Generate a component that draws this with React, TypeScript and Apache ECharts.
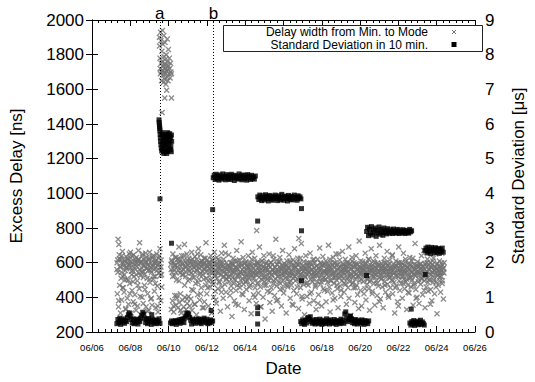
import React, { useEffect, useRef } from "react";
import * as echarts from "echarts";

// x values are days since 06/06 00:00
const FIRST_DAY_OF_AXIS = 6;
const X_MIN = 0;
const X_MAX = 20;
const X_TICK = 2;

// ---- Delay width from Min. to Mode [ns] (gray ×) ----
const delayStep = 1 / 48;
const delayStepB = 1 / 24;
const delaySeg1Start = 1.3;
const delaySeg1 = [
  560, 420, 615, 735, 345, 705, 645, 470, 575, 310, 620, 545, 385, 600, 665, 520, 455, 580, 430, 610, 500, 555, 330, 635,
  575, 505, 395, 615, 600, 360, 590, 650, 480, 570, 660, 625, 310, 530, 440, 600, 555, 375, 645, 520, 590, 415, 605, 560,
  325, 630, 580, 495, 350, 615, 670, 540, 450, 715, 595, 525, 300, 610, 570, 400, 640, 550, 365, 620, 585, 470, 535, 600,
  655, 345, 565, 630, 510, 420, 590, 555, 325, 615, 660, 485, 575, 390, 600, 545, 355, 625, 580, 505, 640, 560, 435, 595,
  520, 610, 340, 570, 650, 465, 585, 315, 625, 540, 400, 600, 680, 555, 380, 615, 530,
];
const delaySeg1bStart = 1.31;
const delaySeg1b = [
  600, 545, 380, 620, 575, 510, 640, 455, 590, 530, 610, 335, 565, 625, 500, 585, 420, 605, 550, 640, 490, 575, 360, 615,
  530, 595, 470, 620, 560, 405, 600, 545, 650, 515, 580, 445, 610, 565, 320, 590, 625, 505, 555, 395, 635, 580, 520, 600,
  480, 615, 555, 350, 590, 640, 525, 575, 460,
];
const delayHigh: [number, number][] = [
  [3.52, 1900], [3.53, 1850], [3.55, 1780], [3.56, 1720], [3.57, 1690], [3.58, 1930], [3.6, 1880], [3.61, 1750],
  [3.62, 1700], [3.63, 1650], [3.65, 1820], [3.66, 1760], [3.67, 1710], [3.68, 1940], [3.7, 1860], [3.71, 1730],
  [3.72, 1680], [3.73, 1640], [3.75, 1910], [3.76, 1790], [3.77, 1745], [3.78, 1700], [3.8, 1660], [3.81, 1870],
  [3.82, 1770], [3.84, 1720], [3.85, 1690], [3.86, 1630], [3.88, 1800], [3.89, 1740], [3.9, 1705], [3.92, 1670],
  [3.93, 1890], [3.95, 1760], [3.96, 1715], [3.97, 1650], [3.99, 1830], [4.0, 1735], [4.02, 1690], [4.04, 1780],
  [4.06, 1720], [4.08, 1665], [4.1, 1750], [4.12, 1700], [4.15, 1690], [3.9, 1595], [3.8, 1550], [4.15, 1550],
  [3.66, 1466],
];
const delaySeg2Start = 4.12;
const delaySeg2 = [
  590, 330, 615, 545, 380, 650, 565, 315, 600, 525, 410, 585, 355, 630, 500, 395, 575, 620, 340, 555, 690, 370, 605, 540,
  420, 580, 310, 640, 530, 385, 595, 560, 345, 615, 705, 400, 570, 520, 330, 600, 650, 365, 585, 495, 405, 625, 550, 350,
  575, 610, 390, 540, 660, 325, 590, 515, 440, 605, 570, 360, 635, 545, 480, 580, 300, 620, 555, 415, 595, 680, 505, 570,
  385, 600, 540, 645, 455, 575, 610, 340, 530, 590, 505, 625, 375, 560, 600, 470, 715, 545, 420, 615, 580, 495, 350, 565,
  605, 525, 460, 590, 640, 550, 310, 575, 615, 490, 545, 400, 600, 660, 520, 435, 580, 555, 365, 630, 510, 590, 450, 570,
  540, 610, 485, 565, 320, 595, 530, 655, 460, 580, 515, 395, 620, 550, 700, 475, 570, 535, 430, 600, 505, 560, 345, 585,
  520, 645, 490, 575, 410, 555, 600, 465, 535, 290, 590, 515, 625, 480, 560, 380, 545, 610, 500, 440, 575, 670, 525, 470,
  565, 355, 590, 530, 615, 455, 545, 500, 720, 585, 420, 560, 505, 630, 475, 550, 330, 595, 540, 490, 605, 445, 520, 580,
  495, 570, 640, 515, 380, 555, 600, 470, 535, 305, 580, 525, 660, 485, 545, 415, 590, 510, 625, 455, 560, 535, 365, 600,
  540, 480, 595, 425, 570, 515, 690, 550, 460, 585, 345, 530, 610, 500, 555, 400, 575, 640, 490, 520, 275, 565, 545, 470,
  605, 520, 435, 560, 585, 495, 650, 540, 370, 575, 510, 600, 455, 530, 320, 590, 555, 480, 620, 545, 410, 570, 505, 735,
  550, 465, 590, 520, 385, 605, 540, 490, 575, 630, 445, 560, 515, 350, 585, 535, 670, 500, 565, 425, 595, 530, 475, 545,
  580, 310, 555, 610, 505, 460, 570, 525, 645, 490, 540, 395, 600, 550, 470, 585, 360, 530, 615, 510, 440, 565, 680, 520,
  495, 575, 540, 420, 590, 505, 625, 560, 335, 545, 485, 600, 530, 455, 570, 710, 515, 390, 580, 550, 475, 605, 525, 300,
  565, 515, 640, 480, 550, 405, 585, 530, 470, 600, 545, 365, 575, 655, 505, 560, 430, 590, 520, 490, 615, 540, 380, 570,
  525, 600, 460, 555, 330, 580, 535, 490, 620, 545, 415, 570, 510, 685, 560, 475, 595, 530, 350, 585, 505, 635, 450, 550,
  590, 440, 545, 505, 610, 375, 565, 530, 485, 595, 545, 700, 520, 460, 575, 315, 555, 600, 495, 540, 425, 585, 515, 630,
  545, 480, 575, 395, 600, 525, 650, 500, 555, 450, 590, 340, 535, 570, 510, 615, 465, 550, 405, 585, 525, 495, 665, 560,
  510, 590, 430, 560, 535, 620, 475, 580, 360, 545, 505, 600, 455, 570, 690, 520, 490, 595, 540, 295, 565, 515, 630, 480,
  575, 520, 455, 600, 545, 370, 585, 505, 640, 535, 470, 560, 415, 590, 525, 550, 725, 495, 570, 440, 610, 530, 350, 555,
  540, 605, 490, 565, 420, 580, 515, 655, 545, 385, 595, 530, 475, 570, 505, 620, 450, 555, 325, 590, 540, 500, 680, 525,
  560, 435, 585, 520, 610, 480, 545, 355, 575, 530, 640, 495, 565, 410, 600, 540, 465, 585, 515, 700, 550, 390, 570, 505,
  595, 525, 460, 560, 340, 580, 545, 625, 490, 570, 430, 600, 515, 550, 665, 475, 585, 530, 400, 565, 510, 615, 455, 545,
  530, 575, 500, 645, 420, 555, 590, 485, 540, 310, 570, 525, 610, 465, 580, 545, 375, 600, 520, 690, 495, 560, 440, 585,
  550, 480, 600, 535, 395, 570, 520, 655, 505, 585, 450, 545, 620, 490, 560, 330, 575, 535, 470, 595, 510, 425, 565, 630,
  515, 585, 460, 545, 610, 500, 570, 355, 535, 590, 480, 560, 710, 525, 445, 580, 540, 400, 605, 550, 490, 575, 365, 540,
  590, 530, 475, 565, 640, 505, 550, 415, 580, 520, 670, 495, 560, 340, 595, 535, 460, 575, 510, 620, 545, 435, 585, 500,
  560, 505, 600, 445, 570, 530, 380, 590, 545, 485, 625, 515, 555, 420, 580, 535, 650, 490, 565, 305, 595, 525, 470, 550,
  540, 610, 495, 575, 430, 560, 520, 655, 480, 585, 545, 390, 570, 600,
];
const delaySeg2bStart = 4.13;
const delaySeg2b = [
  560, 605, 520, 350, 585, 630, 545, 410, 575, 600, 495, 620, 325, 555, 590, 530, 640, 470, 580, 545, 390, 610, 565, 505,
  595, 540, 445, 620, 575, 515, 360, 600, 560, 650, 485, 585, 530, 420, 610, 550, 595, 340, 570, 625, 510, 580, 455, 600,
  545, 590, 500, 570, 615, 475, 555, 530, 385, 595, 540, 620, 490, 565, 585, 430, 550, 600, 520, 575, 655, 505, 560, 535,
  580, 515, 565, 440, 600, 545, 590, 505, 570, 360, 555, 610, 525, 580, 475, 545, 595, 535, 415, 570, 520, 600, 490, 560,
  535, 575, 460, 590, 550, 620, 510, 565, 540, 400, 585, 530, 600, 485, 555, 575, 345, 545, 610, 515, 580, 470, 560, 595,
  570, 505, 585, 545, 430, 600, 530, 560, 640, 495, 575, 540, 380, 590, 520, 555, 605, 480, 565, 535, 450, 580, 545, 510,
  590, 550, 470, 575, 525, 610, 495, 560, 540, 355, 585, 520, 570, 600, 460, 545, 590, 510, 625, 530, 405, 565, 550, 580,
  520, 565, 600, 485, 550, 575, 420, 595, 535, 560, 505, 620, 545, 470, 580, 525, 365, 570, 555, 600, 490, 540, 585, 515,
  555, 590, 505, 545, 435, 580, 560, 620, 495, 570, 530, 385, 600, 545, 515, 585, 470, 560, 650, 525, 575, 440, 550, 590,
  540, 480, 575, 560, 600, 515, 550, 395, 590, 530, 565, 610, 485, 545, 575, 455, 595, 520, 560, 335, 580, 540, 505, 570,
  585, 530, 560, 450, 595, 545, 505, 575, 620, 490, 555, 580, 420, 565, 540, 600, 515, 570, 480, 550, 590, 375, 535, 565,
  510, 575, 545, 600, 470, 560, 530, 585, 410, 550, 595, 520, 565, 640, 495, 540, 575, 455, 585, 525, 560, 350, 600, 545,
  565, 520, 590, 480, 555, 540, 605, 505, 575, 430, 560, 535, 590, 515, 545, 625, 470, 570, 530, 395, 585, 550, 505, 580,
  545, 595, 510, 560, 575, 440, 590, 525, 550, 600, 485, 565, 535, 360, 580, 545, 610, 500, 555, 570, 460, 590, 530, 560,
  575, 520, 545, 600, 495, 565, 540,
];
const delayIsolated: [number, number][] = [[8.6, 785], [10.8, 740]];

// ---- Standard Deviation in 10 min. [µs] (black squares) ----
const sdStep = 0.05;
const sdLow1Start = 1.3;
const sdLow1 = [
  0.24, 0.36, 0.27, 0.4, 0.22, 0.34, 0.29, 0.38, 0.25, 0.33,
  0.3, 0.42, 0.5, 0.55, 0.46, 0.36, 0.26, 0.38, 0.24, 0.34,
  0.28, 0.37, 0.23, 0.35, 0.3, 0.4, 0.48, 0.57, 0.52, 0.4,
  0.27, 0.36, 0.24, 0.39, 0.29, 0.34, 0.22, 0.37, 0.31, 0.26,
  0.35, 0.24, 0.33, 0.28, 0.38, 0.25,
];
const sdSpike: [number, number][] = [
  [3.5, 6.12], [3.51, 6.05], [3.52, 5.98], [3.53, 5.92], [3.54, 5.86], [3.55, 5.8], [3.56, 5.7], [3.57, 5.6],
  [3.58, 5.5], [3.6, 5.4], [3.62, 5.3], [3.64, 5.22], [3.66, 5.68], [3.68, 5.45], [3.7, 5.3], [3.72, 5.6],
  [3.74, 5.2], [3.76, 5.5], [3.78, 5.38], [3.8, 5.65], [3.82, 5.25], [3.84, 5.55], [3.86, 5.42], [3.88, 5.2],
  [3.9, 5.6], [3.92, 5.33], [3.94, 5.5], [3.96, 5.22], [3.98, 5.7], [4.0, 5.4], [4.02, 5.55], [4.04, 5.28],
  [4.06, 5.72], [4.08, 5.48], [4.1, 5.62], [4.12, 5.35], [4.14, 5.2], [4.16, 5.5], [3.7, 5.75], [3.85, 5.7],
  [3.95, 5.75], [4.05, 5.6], [4.15, 5.68], [3.75, 5.15], [3.9, 5.15], [4.1, 5.25],
];
const sdLow2Start = 4.1;
const sdLow2 = [
  0.26, 0.32, 0.24, 0.3, 0.27, 0.33, 0.22, 0.31, 0.28, 0.35,
  0.25, 0.36, 0.3, 0.38, 0.27, 0.4, 0.46, 0.53, 0.55, 0.5,
  0.42, 0.34, 0.23, 0.37, 0.29, 0.33, 0.25, 0.36, 0.3, 0.38,
  0.27, 0.34, 0.24, 0.36, 0.29, 0.4, 0.33, 0.27, 0.37, 0.24,
  0.31, 0.26, 0.35, 0.28, 0.32,
];
const sdBand1Start = 6.33;
const sdBand1 = [
  4.45, 4.52, 4.4, 4.55, 4.43, 4.5, 4.38, 4.53, 4.46, 4.41,
  4.56, 4.44, 4.49, 4.39, 4.54, 4.47, 4.42, 4.51, 4.4, 4.55,
  4.45, 4.5, 4.37, 4.52, 4.44, 4.48, 4.41, 4.56, 4.43, 4.5,
  4.39, 4.53, 4.46, 4.42, 4.51, 4.38, 4.54, 4.45, 4.49, 4.4,
  4.52, 4.43, 4.47, 4.41, 4.5,
];
const sdBand2Start = 8.66;
const sdBand2 = [
  3.9, 3.82, 3.95, 3.86, 3.79, 3.93, 3.88, 3.81, 3.96, 3.85,
  3.91, 3.78, 3.94, 3.87, 3.83, 3.92, 3.8, 3.89, 3.95, 3.84,
  3.9, 3.79, 3.93, 3.86, 3.82, 3.97, 3.88, 3.8, 3.92, 3.85,
  3.9, 3.78, 3.94, 3.87, 3.83, 3.91, 3.81, 3.89, 3.95, 3.84,
  3.88, 3.8, 3.93, 3.86, 3.9, 3.84,
];
const sdLow3Start = 10.9;
const sdLow3 = [
  0.3, 0.24, 0.35, 0.27, 0.22, 0.33, 0.26, 0.38, 0.42, 0.36,
  0.44, 0.3, 0.25, 0.34, 0.28, 0.23, 0.36, 0.27, 0.32, 0.24,
  0.37, 0.29, 0.22, 0.34, 0.26, 0.31, 0.24, 0.38, 0.28, 0.33,
  0.23, 0.35, 0.27, 0.3, 0.25, 0.36, 0.29, 0.22, 0.33, 0.27,
  0.31, 0.24, 0.37, 0.28, 0.34, 0.25, 0.52, 0.58, 0.4, 0.3,
  0.35, 0.44, 0.46, 0.38, 0.27, 0.33, 0.24, 0.36, 0.29, 0.23,
  0.34, 0.27, 0.31, 0.25, 0.35, 0.28, 0.22, 0.33, 0.26, 0.3,
  0.24, 0.32,
];
const sdBand3Start = 14.34;
const sdBand3 = [
  2.9, 3.02, 2.78, 2.97, 2.85, 3.04, 2.8, 2.95, 2.88, 3.0,
  2.76, 2.93, 2.86, 3.03, 2.82, 2.96, 2.89, 2.79, 3.0, 2.87,
  2.94, 2.83, 2.98, 2.88, 2.85, 2.95, 2.9, 2.84, 2.97, 2.87,
  2.92, 2.85, 2.96, 2.89, 2.84, 2.94, 2.88, 2.86, 2.95, 2.9,
  2.84, 2.93, 2.87, 2.91, 2.85, 2.96, 2.89, 2.92,
];
const sdLow4Start = 16.6;
const sdLow4 = [0.26, 0.2, 0.3, 0.23, 0.33, 0.19, 0.28, 0.24, 0.31, 0.21, 0.27, 0.34, 0.22, 0.29, 0.25, 0.2];
const sdBand4Start = 17.39;
const sdBand4 = [
  2.35, 2.42, 2.28, 2.45, 2.32, 2.39, 2.26, 2.44, 2.34, 2.4,
  2.29, 2.43, 2.36, 2.31, 2.41, 2.27, 2.38, 2.33, 2.42, 2.3,
];
const sdIsolated: [number, number][] = [
  [3.12, 0.5], [3.55, 3.84], [4.15, 2.56], [6.22, 0.62], [6.3, 3.53],
  [8.65, 3.2], [8.65, 0.7], [8.65, 0.53], [8.65, 0.23],
  [10.94, 3.56], [10.94, 2.92], [10.94, 1.48],
  [14.34, 1.63], [16.67, 0.66], [17.4, 1.66],
];

const eventLines = [
  { name: "a", day: 3.54 },
  { name: "b", day: 6.34 },
];

const LEGEND_DELAY = "Delay width from Min. to Mode";
const LEGEND_SD = "Standard Deviation in 10 min.";

const seq = (start: number, step: number, vals: number[]) =>
  vals.map((v, i) => [start + i * step, v]);

const FONT = "Liberation Sans, Arial, Helvetica, sans-serif";
const GRAY = "#727272";
const CROSS =
  "path://M0,1.6L1.6,0L5,3.4L8.4,0L10,1.6L6.6,5L10,8.4L8.4,10L5,6.6L1.6,10L0,8.4L3.4,5Z";

const pad2 = (n: number) => (n < 10 ? "0" + n : "" + n);

export default function App() {
  const ref = useRef<HTMLDivElement>(null);
  useEffect(() => {
    if (!ref.current) return;
    const chart = echarts.init(ref.current, null, { renderer: "svg" });

    const delayData = [
      ...seq(delaySeg1Start, delayStep, delaySeg1),
      ...seq(delaySeg1bStart, delayStepB, delaySeg1b),
      ...delayHigh,
      ...seq(delaySeg2Start, delayStep, delaySeg2),
      ...seq(delaySeg2bStart, delayStepB, delaySeg2b),
      ...delayIsolated,
    ];
    const sdData = [
      ...seq(sdLow1Start, sdStep, sdLow1),
      ...sdSpike,
      ...seq(sdLow2Start, sdStep, sdLow2),
      ...seq(sdBand1Start, sdStep, sdBand1),
      ...seq(sdBand2Start, sdStep, sdBand2),
      ...seq(sdLow3Start, sdStep, sdLow3),
      ...seq(sdBand3Start, sdStep, sdBand3),
      ...seq(sdLow4Start, sdStep, sdLow4),
      ...seq(sdBand4Start, sdStep, sdBand4),
      ...sdIsolated,
    ];

    const xCommon = {
      type: "value" as const,
      min: X_MIN,
      max: X_MAX,
      interval: X_TICK,
      axisLine: { show: true, lineStyle: { color: "#000", width: 1 } },
      axisTick: { show: true, inside: true, length: 6, lineStyle: { color: "#000" } },
      minorTick: { show: true, splitNumber: 6, length: 3, lineStyle: { color: "#000" } },
      splitLine: { show: false },
    };

    chart.setOption({
      animation: false,
      textStyle: { fontFamily: FONT },
      grid: { left: 80, right: 45, top: 20, bottom: 42, containLabel: false },
      xAxis: [
        {
          ...xCommon,
          position: "bottom",
          name: "Date",
          nameLocation: "middle",
          nameGap: 28,
          nameTextStyle: { fontSize: 17, color: "#000", fontFamily: FONT },
          axisLabel: {
            show: true,
            fontSize: 9.5,
            color: "#000",
            margin: 10,
            fontFamily: FONT,
            formatter: (v: number) => "06/" + pad2(FIRST_DAY_OF_AXIS + Math.round(v)),
          },
        },
        { ...xCommon, position: "top", axisLabel: { show: false } },
      ],
      yAxis: [
        {
          type: "value",
          position: "left",
          min: 200,
          max: 2000,
          interval: 200,
          name: "Excess Delay [ns]",
          nameLocation: "middle",
          nameRotate: 90,
          nameGap: 67,
          nameTextStyle: { fontSize: 17, color: "#000", fontFamily: FONT },
          axisLine: { show: true, lineStyle: { color: "#000", width: 1 } },
          axisTick: { show: true, inside: true, length: 6, lineStyle: { color: "#000" } },
          splitLine: { show: false },
          axisLabel: {
            fontSize: 17,
            color: "#000",
            margin: 8,
            fontFamily: FONT,
            formatter: (v: number) => String(v),
          },
        },
        {
          type: "value",
          position: "right",
          min: 0,
          max: 9,
          interval: 1,
          name: "Standard Deviation [\u03bcs]",
          nameLocation: "middle",
          nameRotate: 90,
          nameGap: 35,
          nameTextStyle: { fontSize: 17, color: "#000", fontFamily: FONT },
          axisLine: { show: true, lineStyle: { color: "#000", width: 1 } },
          axisTick: { show: true, inside: true, length: 6, lineStyle: { color: "#000" } },
          splitLine: { show: false },
          axisLabel: {
            fontSize: 17,
            color: "#000",
            margin: 10,
            fontFamily: FONT,
            formatter: (v: number) => String(v),
          },
        },
      ],
      series: [
        {
          name: LEGEND_DELAY,
          type: "scatter",
          xAxisIndex: 0,
          yAxisIndex: 0,
          symbol: CROSS,
          symbolSize: 6,
          itemStyle: { color: GRAY },
          data: delayData,
          silent: true,
          markLine: {
            silent: true,
            symbol: ["none", "none"],
            lineStyle: { color: "#000", type: [1, 2], width: 1 },
            label: {
              show: true,
              position: "end",
              formatter: "{b}",
              fontSize: 17,
              color: "#000",
              fontFamily: FONT,
              distance: -2,
            },
            data: eventLines.map((e) => ({ name: e.name, xAxis: e.day })),
          },
        },
        {
          name: LEGEND_SD,
          type: "scatter",
          xAxisIndex: 0,
          yAxisIndex: 1,
          symbol: "rect",
          symbolSize: 5,
          itemStyle: { color: "#000" },
          data: sdData,
          silent: true,
        },
      ],
      graphic: [
        {
          type: "rect",
          shape: { x: 223.5, y: 25.5, width: 259, height: 26 },
          style: { fill: "#fff", stroke: "#222", lineWidth: 1 },
          z: 10,
        },
        {
          type: "text",
          x: 428,
          y: 32,
          style: {
            text: LEGEND_DELAY,
            fontSize: 12,
            fontFamily: FONT,
            fill: "#000",
            align: "right",
            verticalAlign: "middle",
          },
          z: 11,
        },
        {
          type: "text",
          x: 428,
          y: 44.5,
          style: {
            text: LEGEND_SD,
            fontSize: 12,
            fontFamily: FONT,
            fill: "#000",
            align: "right",
            verticalAlign: "middle",
          },
          z: 11,
        },
        {
          type: "line",
          shape: { x1: 452, y1: 30, x2: 456, y2: 34 },
          style: { stroke: GRAY, lineWidth: 1 },
          z: 11,
        },
        {
          type: "line",
          shape: { x1: 456, y1: 30, x2: 452, y2: 34 },
          style: { stroke: GRAY, lineWidth: 1 },
          z: 11,
        },
        {
          type: "rect",
          shape: { x: 451.5, y: 42, width: 5, height: 5 },
          style: { fill: "#000" },
          z: 11,
        },
      ],
    });
    return () => chart.dispose();
  }, []);
  return (
    <div
      ref={ref}
      style={{ position: "absolute", left: 0, top: 0, width: 535, height: 382, background: "#fff" }}
    />
  );
}
